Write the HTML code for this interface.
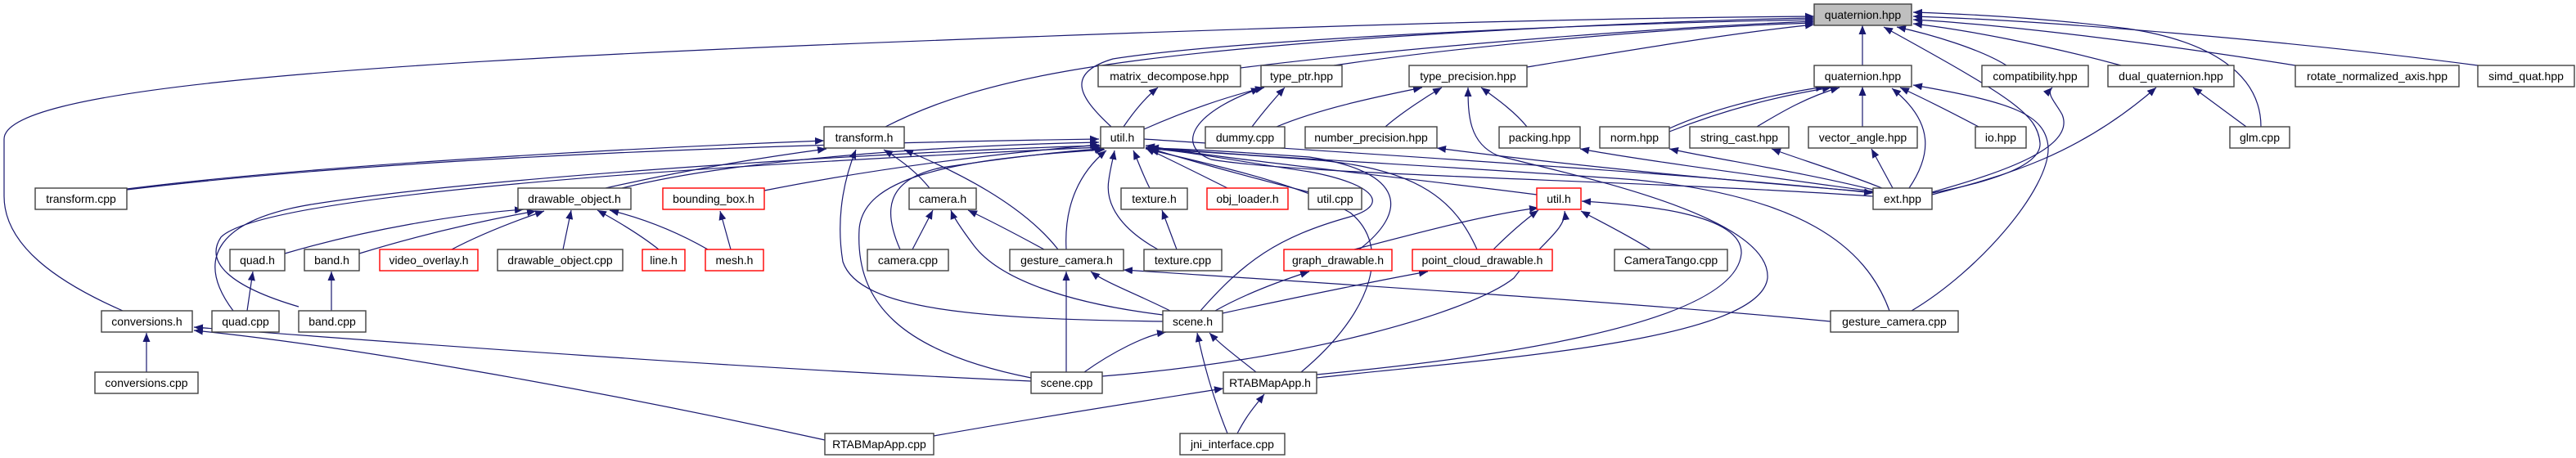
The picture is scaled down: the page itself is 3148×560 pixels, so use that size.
<!DOCTYPE html>
<html><head><meta charset="utf-8"><style>
html,body{margin:0;padding:0;background:#fff;}
svg{display:block;}
text{font-family:"Liberation Sans",sans-serif;font-size:14px;fill:#000;}
.e{fill:none;stroke:#191970;stroke-width:1.2;marker-end:url(#a);}
.n rect{fill:#fff;stroke:#404040;stroke-width:1.4;}
.r rect{fill:#fff;stroke:#ff0000;stroke-width:1.4;}
</style></head><body>
<svg width="3148" height="560" viewBox="0 0 3148 560" xmlns="http://www.w3.org/2000/svg">
<defs><marker id="a" markerWidth="11" markerHeight="9" refX="11" refY="4.5" orient="auto" markerUnits="userSpaceOnUse"><path d="M0,0 L11,4.5 L0,9 z" fill="#191970"/></marker></defs>
<g>
<path class="e" d="M150,380 C70,345 5,300 5,240 L5,170 C5,110 400,80 1000,55 C1500,35 1900,22 2217,20"/>
<path class="e" d="M1082,155 C1200,95 1350,70 1700,45 C1900,32 2100,24 2217,22"/>
<path class="e" d="M1358,155 C1320,120 1300,90 1360,72 C1500,50 1900,30 2217,24"/>
<path class="e" d="M1516,83 C1700,60 2000,35 2217,26"/>
<path class="e" d="M1630,80 C1800,55 2050,33 2217,28"/>
<path class="e" d="M1866,82 C2000,60 2120,40 2217,30"/>
<path class="e" d="M2276,80 L2276,31"/>
<path class="e" d="M2452,80 C2420,60 2360,42 2318,33"/>
<path class="e" d="M2592,80 C2500,55 2400,36 2338,29"/>
<path class="e" d="M2805,80 C2650,55 2450,30 2338,24"/>
<path class="e" d="M3028,80 C2800,50 2500,25 2338,20"/>
<path class="e" d="M2763,155 C2763,90 2700,50 2600,35 C2500,22 2400,17 2338,15"/>
<path class="e" d="M2361,236 C2420,225 2495,205 2493,175 C2490,140 2460,120 2302,33"/>
<path class="e" d="M2040,157 C2100,130 2170,115 2230,106"/>
<path class="e" d="M2040,161 C2110,133 2180,116 2238,107"/>
<path class="e" d="M2147,155 C2180,135 2210,118 2248,107"/>
<path class="e" d="M2276,155 L2276,106"/>
<path class="e" d="M2333,230 C2360,190 2365,150 2312,108"/>
<path class="e" d="M2418,155 C2380,135 2350,120 2322,107"/>
<path class="e" d="M2336,380 C2420,330 2505,230 2503,180 C2500,140 2460,125 2338,104"/>
<path class="e" d="M1560,155 C1620,130 1700,115 1738,107"/>
<path class="e" d="M1693,155 C1710,140 1740,120 1762,107"/>
<path class="e" d="M1866,155 C1850,135 1825,118 1810,107"/>
<path class="e" d="M1609,462 C1800,440 2150,420 2160,340 C2165,260 1900,210 1830,190 C1795,175 1794,140 1794,107"/>
<path class="e" d="M1609,458 C1800,440 2120,400 2128,310 C2130,260 2000,250 1933,246"/>
<path class="e" d="M1373,155 C1390,130 1405,115 1415,107"/>
<path class="e" d="M1398,158 C1450,135 1500,118 1545,107"/>
<path class="e" d="M1530,155 C1545,135 1560,118 1570,107"/>
<path class="e" d="M2289,240 C2000,220 1600,215 1480,195 C1440,180 1450,140 1540,108"/>
<path class="e" d="M155,232 C500,190 1000,175 1343,170"/>
<path class="e" d="M760,230 C900,195 1150,178 1343,174"/>
<path class="e" d="M934,233 C1100,200 1250,185 1343,177"/>
<path class="e" d="M285,380 C240,320 260,270 380,250 C600,215 1100,185 1345,178"/>
<path class="e" d="M365,375 C280,350 250,320 270,290 C320,240 800,205 1345,180"/>
<path class="e" d="M1100,305 C1080,260 1080,220 1150,205 C1250,190 1320,183 1349,182"/>
<path class="e" d="M1260,462 C1100,430 1045,370 1050,280 C1055,220 1150,195 1350,183"/>
<path class="e" d="M1303,305 C1300,250 1320,210 1352,184"/>
<path class="e" d="M1405,230 C1395,210 1390,195 1385,184"/>
<path class="e" d="M1415,305 C1370,280 1350,250 1355,220 C1357,205 1360,195 1362,184"/>
<path class="e" d="M1500,230 C1460,210 1430,195 1400,181"/>
<path class="e" d="M1600,235 C1520,215 1450,195 1400,180"/>
<path class="e" d="M1878,238 C1700,215 1500,195 1400,178"/>
<path class="e" d="M1467,380 C1520,320 1560,290 1650,265 C1700,250 1680,225 1600,210 C1500,195 1450,185 1400,181"/>
<path class="e" d="M1661,305 C1720,260 1720,210 1600,192 C1500,185 1450,182 1400,181"/>
<path class="e" d="M1805,305 C1780,250 1740,205 1600,195 C1500,188 1450,184 1400,182"/>
<path class="e" d="M1590,455 C1680,380 1700,300 1650,260 C1580,220 1450,195 1405,183"/>
<path class="e" d="M2309,380 C2280,300 2200,240 2000,220 C1800,205 1500,190 1405,180"/>
<path class="e" d="M1398,170 C1700,190 2100,215 2289,236"/>
<path class="e" d="M155,231 C400,200 800,180 1007,172"/>
<path class="e" d="M740,230 C850,205 950,190 1010,182"/>
<path class="e" d="M1421,393 C1200,390 1050,380 1030,320 C1020,260 1035,210 1046,183"/>
<path class="e" d="M1136,230 C1120,210 1100,195 1080,183"/>
<path class="e" d="M1293,305 C1250,250 1170,210 1105,183"/>
<path class="e" d="M348,310 C450,280 560,262 640,256"/>
<path class="e" d="M439,310 C520,285 600,268 655,258"/>
<path class="e" d="M552,305 C590,285 630,270 665,258"/>
<path class="e" d="M688,305 L698,257"/>
<path class="e" d="M805,305 C780,285 750,268 730,257"/>
<path class="e" d="M865,305 C830,285 790,268 745,257"/>
<path class="e" d="M893,305 L880,258"/>
<path class="e" d="M302,380 L309,332"/>
<path class="e" d="M405,380 L405,332"/>
<path class="e" d="M1115,305 L1140,257"/>
<path class="e" d="M1276,305 C1230,280 1200,265 1183,257"/>
<path class="e" d="M1421,385 C1300,370 1220,340 1190,300 C1175,280 1165,265 1162,257"/>
<path class="e" d="M1438,305 L1420,257"/>
<path class="e" d="M1430,380 C1390,360 1350,345 1333,332"/>
<path class="e" d="M1303,455 L1303,332"/>
<path class="e" d="M2237,393 C2000,370 1600,345 1373,330"/>
<path class="e" d="M1325,455 C1360,430 1400,410 1425,406"/>
<path class="e" d="M1535,455 C1510,435 1490,420 1478,407"/>
<path class="e" d="M1500,530 C1480,480 1470,440 1463,407"/>
<path class="e" d="M1485,380 C1520,360 1560,345 1600,332"/>
<path class="e" d="M1494,383 C1600,360 1700,340 1745,332"/>
<path class="e" d="M1655,305 C1750,280 1820,262 1880,254"/>
<path class="e" d="M1825,305 C1845,285 1865,268 1880,257"/>
<path class="e" d="M2017,305 C1985,285 1950,268 1932,258"/>
<path class="e" d="M1347,460 C1600,440 1800,380 1850,340 C1880,300 1915,280 1912,258"/>
<path class="e" d="M1512,530 C1525,505 1535,495 1545,482"/>
<path class="e" d="M1141,533 C1300,505 1400,490 1495,475"/>
<path class="e" d="M179,455 L179,407"/>
<path class="e" d="M1260,466 C900,450 500,420 237,400"/>
<path class="e" d="M1008,538 C700,470 400,420 237,404"/>
<path class="e" d="M2289,235 C2100,220 1900,200 1756,181"/>
<path class="e" d="M2289,234 C2150,215 2000,195 1931,182"/>
<path class="e" d="M2289,232 C2200,210 2100,195 2040,182"/>
<path class="e" d="M2300,230 C2250,210 2200,195 2165,182"/>
<path class="e" d="M2313,230 L2287,182"/>
<path class="e" d="M2361,235 C2450,210 2537,180 2520,140 C2512,125 2500,115 2508,107"/>
<path class="e" d="M2361,238 C2450,215 2540,190 2635,107"/>
<path class="e" d="M2745,155 L2680,107"/>
</g>
<g class="n"><rect x="2217" y="5" width="119" height="26" style="fill:#bfbfbf"/><text x="2276.5" y="23" text-anchor="middle">quaternion.hpp</text></g>
<g class="n"><rect x="1342" y="80" width="174" height="26"/><text x="1429" y="98" text-anchor="middle">matrix_decompose.hpp</text></g>
<g class="n"><rect x="1541" y="80" width="99" height="26"/><text x="1590.5" y="98" text-anchor="middle">type_ptr.hpp</text></g>
<g class="n"><rect x="1722" y="80" width="144" height="26"/><text x="1794" y="98" text-anchor="middle">type_precision.hpp</text></g>
<g class="n"><rect x="2217" y="80" width="119" height="26"/><text x="2276.5" y="98" text-anchor="middle">quaternion.hpp</text></g>
<g class="n"><rect x="2422" y="80" width="130" height="26"/><text x="2487" y="98" text-anchor="middle">compatibility.hpp</text></g>
<g class="n"><rect x="2576" y="80" width="154" height="26"/><text x="2653" y="98" text-anchor="middle">dual_quaternion.hpp</text></g>
<g class="n"><rect x="2805" y="80" width="200" height="26"/><text x="2905" y="98" text-anchor="middle">rotate_normalized_axis.hpp</text></g>
<g class="n"><rect x="3028" y="80" width="118" height="26"/><text x="3087" y="98" text-anchor="middle">simd_quat.hpp</text></g>
<g class="n"><rect x="1007" y="155" width="98" height="26"/><text x="1056" y="173" text-anchor="middle">transform.h</text></g>
<g class="n"><rect x="1345" y="155" width="53" height="26"/><text x="1371.5" y="173" text-anchor="middle">util.h</text></g>
<g class="n"><rect x="1473" y="155" width="97" height="26"/><text x="1521.5" y="173" text-anchor="middle">dummy.cpp</text></g>
<g class="n"><rect x="1595" y="155" width="161" height="26"/><text x="1675.5" y="173" text-anchor="middle">number_precision.hpp</text></g>
<g class="n"><rect x="1832" y="155" width="99" height="26"/><text x="1881.5" y="173" text-anchor="middle">packing.hpp</text></g>
<g class="n"><rect x="1955" y="155" width="85" height="26"/><text x="1997.5" y="173" text-anchor="middle">norm.hpp</text></g>
<g class="n"><rect x="2065" y="155" width="121" height="26"/><text x="2125.5" y="173" text-anchor="middle">string_cast.hpp</text></g>
<g class="n"><rect x="2210" y="155" width="133" height="26"/><text x="2276.5" y="173" text-anchor="middle">vector_angle.hpp</text></g>
<g class="n"><rect x="2414" y="155" width="62" height="26"/><text x="2445" y="173" text-anchor="middle">io.hpp</text></g>
<g class="n"><rect x="2725" y="155" width="73" height="26"/><text x="2761.5" y="173" text-anchor="middle">glm.cpp</text></g>
<g class="n"><rect x="43" y="230" width="112" height="26"/><text x="99" y="248" text-anchor="middle">transform.cpp</text></g>
<g class="n"><rect x="633" y="230" width="138" height="26"/><text x="702" y="248" text-anchor="middle">drawable_object.h</text></g>
<g class="r"><rect x="810" y="230" width="124" height="26"/><text x="872" y="248" text-anchor="middle">bounding_box.h</text></g>
<g class="n"><rect x="1111" y="230" width="82" height="26"/><text x="1152" y="248" text-anchor="middle">camera.h</text></g>
<g class="n"><rect x="1370" y="230" width="81" height="26"/><text x="1410.5" y="248" text-anchor="middle">texture.h</text></g>
<g class="r"><rect x="1475" y="230" width="99" height="26"/><text x="1524.5" y="248" text-anchor="middle">obj_loader.h</text></g>
<g class="n"><rect x="1599" y="230" width="65" height="26"/><text x="1631.5" y="248" text-anchor="middle">util.cpp</text></g>
<g class="r"><rect x="1878" y="230" width="54" height="26"/><text x="1905" y="248" text-anchor="middle">util.h</text></g>
<g class="n"><rect x="2289" y="230" width="72" height="26"/><text x="2325" y="248" text-anchor="middle">ext.hpp</text></g>
<g class="n"><rect x="281" y="305" width="67" height="26"/><text x="314.5" y="323" text-anchor="middle">quad.h</text></g>
<g class="n"><rect x="372" y="305" width="67" height="26"/><text x="405.5" y="323" text-anchor="middle">band.h</text></g>
<g class="r"><rect x="464" y="305" width="120" height="26"/><text x="524" y="323" text-anchor="middle">video_overlay.h</text></g>
<g class="n"><rect x="608" y="305" width="153" height="26"/><text x="684.5" y="323" text-anchor="middle">drawable_object.cpp</text></g>
<g class="r"><rect x="785" y="305" width="52" height="26"/><text x="811" y="323" text-anchor="middle">line.h</text></g>
<g class="r"><rect x="862" y="305" width="71" height="26"/><text x="897.5" y="323" text-anchor="middle">mesh.h</text></g>
<g class="n"><rect x="1060" y="305" width="99" height="26"/><text x="1109.5" y="323" text-anchor="middle">camera.cpp</text></g>
<g class="n"><rect x="1234" y="305" width="139" height="26"/><text x="1303.5" y="323" text-anchor="middle">gesture_camera.h</text></g>
<g class="n"><rect x="1398" y="305" width="95" height="26"/><text x="1445.5" y="323" text-anchor="middle">texture.cpp</text></g>
<g class="r"><rect x="1569" y="305" width="132" height="26"/><text x="1635" y="323" text-anchor="middle">graph_drawable.h</text></g>
<g class="r"><rect x="1726" y="305" width="171" height="26"/><text x="1811.5" y="323" text-anchor="middle">point_cloud_drawable.h</text></g>
<g class="n"><rect x="1973" y="305" width="138" height="26"/><text x="2042" y="323" text-anchor="middle">CameraTango.cpp</text></g>
<g class="n"><rect x="124" y="380" width="111" height="26"/><text x="179.5" y="398" text-anchor="middle">conversions.h</text></g>
<g class="n"><rect x="259" y="380" width="82" height="26"/><text x="300" y="398" text-anchor="middle">quad.cpp</text></g>
<g class="n"><rect x="365" y="380" width="82" height="26"/><text x="406" y="398" text-anchor="middle">band.cpp</text></g>
<g class="n"><rect x="1421" y="380" width="73" height="26"/><text x="1457.5" y="398" text-anchor="middle">scene.h</text></g>
<g class="n"><rect x="2237" y="380" width="156" height="26"/><text x="2315" y="398" text-anchor="middle">gesture_camera.cpp</text></g>
<g class="n"><rect x="116" y="455" width="126" height="26"/><text x="179" y="473" text-anchor="middle">conversions.cpp</text></g>
<g class="n"><rect x="1260" y="455" width="87" height="26"/><text x="1303.5" y="473" text-anchor="middle">scene.cpp</text></g>
<g class="n"><rect x="1495" y="455" width="114" height="26"/><text x="1552" y="473" text-anchor="middle">RTABMapApp.h</text></g>
<g class="n"><rect x="1008" y="530" width="133" height="26"/><text x="1074.5" y="548" text-anchor="middle">RTABMapApp.cpp</text></g>
<g class="n"><rect x="1442" y="530" width="128" height="26"/><text x="1506" y="548" text-anchor="middle">jni_interface.cpp</text></g>
</svg>
</body></html>
